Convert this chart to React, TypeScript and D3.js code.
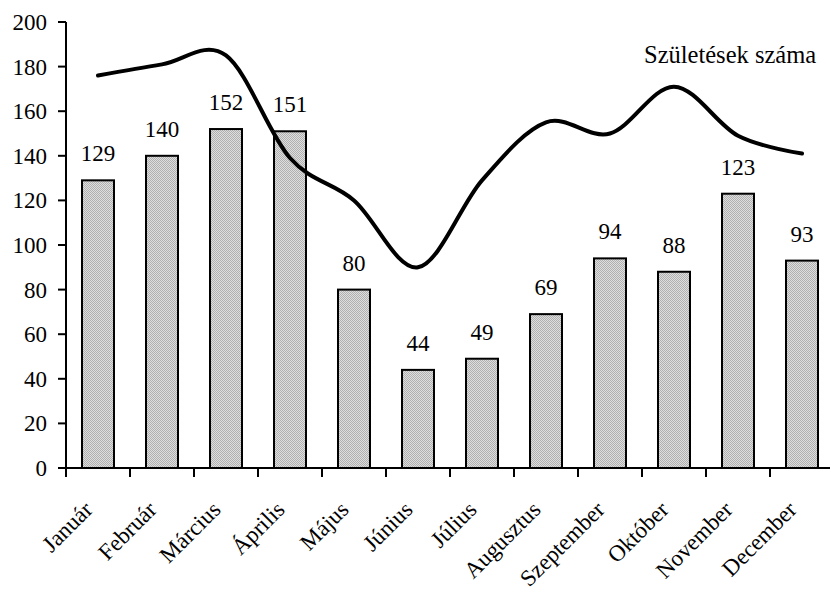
import React from "react";
import * as d3 from "d3";

const months = ["Január","Február","Március","Április","Május","Június","Július","Augusztus","Szeptember","Október","November","December"];
const barValues = [129,140,152,151,80,44,49,69,94,88,123,93];
const birthValues = [176,181,185,139,120,90,129,155,150,171,149,141];
const yTicks = [0,20,40,60,80,100,120,140,160,180,200];
const lineLabel = "Születések száma";

const W = 830, H = 590;
const FONT = '"Liberation Serif", "Times New Roman", "DejaVu Serif", serif';

export default function App() {
  const x = d3.scaleBand<string>().domain(months).range([66, 834]).paddingInner(0.5).paddingOuter(0.25);
  const xc = (m: string) => (x(m) as number) + x.bandwidth() / 2;
  const y = d3.scaleLinear().domain([0, 200]).range([468, 22]);
  const step = x.step();
  const line = d3.line<number>()
    .x((_, i) => xc(months[i]))
    .y((v) => y(v))
    .curve(d3.curveCardinal.tension(0));

  const ts: React.CSSProperties = { fontFamily: FONT, fontSize: "23px" };

  return (
    <svg width={W} height={H} style={{ position: "absolute", left: 0, top: 0, background: "#fff", fontFamily: FONT }}>
      <defs>
        <pattern id="dots" width="2" height="2" patternUnits="userSpaceOnUse">
          <rect width="2" height="2" fill="#dedede" />
          <rect width="1" height="1" fill="#b0b0b0" />
          <rect x="1" y="1" width="1" height="1" fill="#b0b0b0" />
        </pattern>
      </defs>
      {months.map((m, i) => (
        <rect key={m} x={x(m)} y={y(barValues[i])} width={x.bandwidth()} height={y(0) - y(barValues[i])}
          fill="url(#dots)" stroke="#000" strokeWidth={2} />
      ))}
      {months.map((m, i) => (
        <text key={"v" + m} x={xc(m)} y={y(barValues[i]) - 19} textAnchor="middle" style={ts} fill="#000">{barValues[i]}</text>
      ))}
      <line x1={66} x2={66} y1={y(200)} y2={y(0)} stroke="#000" strokeWidth={2} />
      {yTicks.map((t) => (
        <g key={"y" + t}>
          <line x1={58} x2={66} y1={y(t)} y2={y(t)} stroke="#000" strokeWidth={2} />
          <text x={47} y={y(t)} dy="0.35em" textAnchor="end" style={ts} fill="#000">{t}</text>
        </g>
      ))}
      <line x1={66} x2={834} y1={y(0)} y2={y(0)} stroke="#000" strokeWidth={2} />
      {d3.range(0, months.length + 1).map((i) => (
        <line key={"xt" + i} x1={66 + i * step} x2={66 + i * step} y1={y(0)} y2={y(0) + 9} stroke="#000" strokeWidth={2} />
      ))}
      {months.map((m) => (
        <text key={"l" + m} transform={`translate(${xc(m) - 4},511) rotate(-45)`} textAnchor="end" style={ts} fill="#000">{m}</text>
      ))}
      <path d={line(birthValues) || ""} fill="none" stroke="#000" strokeWidth={4} strokeLinecap="round" strokeLinejoin="round" />
      <text x={644} y={63} style={{ ...ts, fontSize: "24.5px" }} fill="#000">{lineLabel}</text>
    </svg>
  );
}
